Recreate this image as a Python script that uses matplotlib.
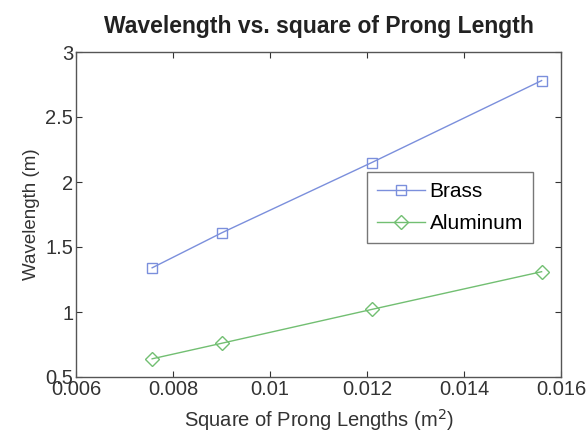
import matplotlib
matplotlib.use("Agg")
import matplotlib.pyplot as plt

# data
prong_sq = [0.00757, 0.00901, 0.0121, 0.0156]
brass = [1.34, 1.61, 2.15, 2.78]
aluminum = [0.64, 0.76, 1.02, 1.31]

plt.rcParams['font.family'] = ['Liberation Sans', 'DejaVu Sans']

fig = plt.figure(figsize=(5.88, 4.43), dpi=100)
ax = fig.add_axes([76/588, 1 - 377/443, (561-76)/588, (377-52)/443])

ax.plot(prong_sq, brass, color='#7b8fdc', lw=1.0, marker='s', ms=7,
        mfc='none', mew=1.0, label='Brass')
ax.plot(prong_sq, aluminum, color='#72bf72', lw=1.0, marker='D', ms=7,
        mfc='none', mew=1.0, label='Aluminum')

ax.set_xlim(0.006, 0.016)
ax.set_ylim(0.5, 3)
ax.set_xticks([0.006, 0.008, 0.01, 0.012, 0.014, 0.016])
ax.set_xticklabels(['0.006', '0.008', '0.01', '0.012', '0.014', '0.016'])
ax.set_yticks([0.5, 1, 1.5, 2, 2.5, 3])
ax.set_yticklabels(['0.5', '1', '1.5', '2', '2.5', '3'])
ax.tick_params(direction='in', top=True, right=True, length=4, width=0.8,
               labelsize=14.5, colors='#333333', pad=2)
for s in ax.spines.values():
    s.set_color('#555555')
    s.set_linewidth(1.0)

ax.set_xlabel('Square of Prong Lengths (m$^2$)', fontsize=14.5, color='#333333', labelpad=6)
ax.set_ylabel('Wavelength (m)', fontsize=13.5, color='#333333', labelpad=4)
ax.set_title('Wavelength vs. square of Prong Length', fontsize=16.5, fontweight='bold',
             color='#222222', pad=14)

leg = ax.legend(loc='upper left', bbox_to_anchor=((367-76)/485, (377-172)/325),
                fontsize=15, frameon=True, fancybox=False, handlelength=2.3,
                borderpad=0.5, labelspacing=0.6, handletextpad=0.2,
                borderaxespad=0)
leg.get_frame().set_edgecolor('#555555')
leg.get_frame().set_linewidth(1.0)

plt.savefig('out.png', dpi=100)
